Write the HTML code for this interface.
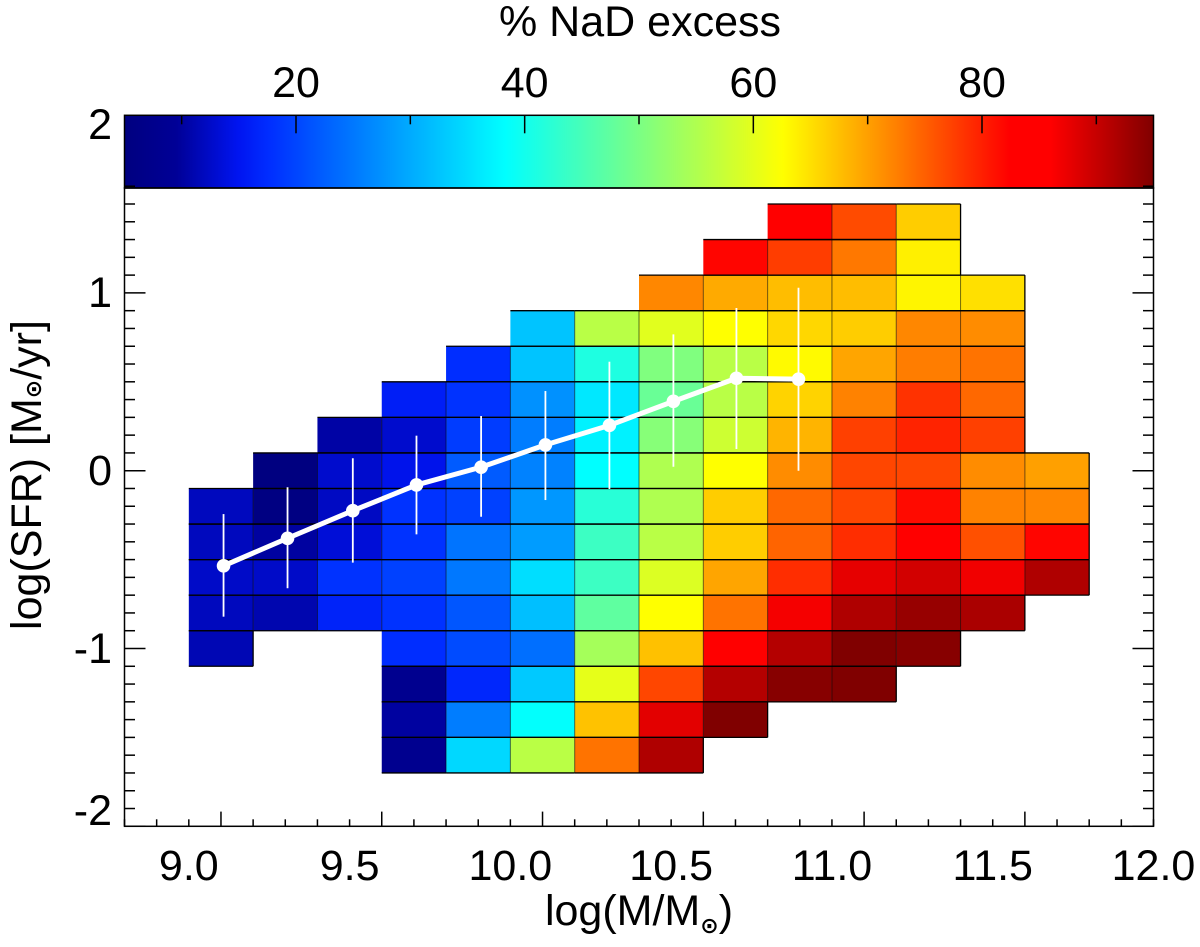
<!DOCTYPE html>
<html lang="en">
<head>
<meta charset="utf-8">
<title>NaD excess heatmap</title>
<style>
  html, body { margin: 0; padding: 0; background: #fff; }
  svg { display: block; }
  text { font-family: "Liberation Sans", sans-serif; font-size: 43px; fill: #000; }
  .sun { font-family: "DejaVu Sans", sans-serif; font-size: 22px; font-weight: bold; }
</style>
</head>
<body>
<svg id="chart" xmlns="http://www.w3.org/2000/svg" width="1200" height="947" viewBox="0 0 1200 947">
  <rect x="0" y="0" width="1200" height="947" fill="#fff"/>
  <defs>
    <linearGradient id="jet" x1="0" x2="1" y1="0" y2="0"></linearGradient>
  </defs>
  <g id="cells"></g>
  <g id="gridlines"></g>
  <g id="series"></g>
  <g id="axes"></g>
  <text x="640" y="36" text-anchor="middle">% NaD excess</text>
  <text x="639" y="925" text-anchor="middle">log(M/M<tspan class="sun" dy="8">⊙</tspan><tspan dy="-8">)</tspan></text>
  <text transform="translate(41,475) rotate(-90)" text-anchor="middle">log(SFR) [M<tspan class="sun" dy="0">⊙</tspan>/yr]</text>
</svg>
<script>
// ---- chart data ----
const massBins = [9.0, 9.2, 9.4, 9.6, 9.8, 10.0, 10.2, 10.4, 10.6, 10.8, 11.0, 11.2, 11.4, 11.6];
const sfrBins = [1.5, 1.3, 1.1, 0.9, 0.7, 0.5, 0.3, 0.1, -0.1, -0.3, -0.5, -0.7, -0.9, -1.1, -1.3, -1.5];
const n = null;
const row1 = [n, n, n, n, n, n, n, n, n, 84, 76.6, 66.5, n, n];
const row2 = [n, n, n, n, n, n, n, n, 82, 77.7, 73.1, 63.8, n, n];
const row3 = [n, n, n, n, n, n, n, 71.9, 69.2, 67.7, 67.7, 63.4, 65, n];
const row4 = [n, n, n, n, n, 32.5, 55.9, 59.7, 62.6, 65.7, 66.5, 71.9, 71.5, n];
const row5 = [n, n, n, n, 17.6, 32.5, 41.2, 50.5, 55.9, 63, 69.6, 72.7, 73.5, n];
const row6 = [n, n, n, 16, 18.1, 27.5, 36, 48.3, 55.9, 66, 72.3, 78.5, 74.3, n];
const row7 = [n, n, 10.4, 12.8, 19.1, 25.5, 37, 51.2, 57.8, 68.4, 77.4, 79.7, 77.4, n];
const row8 = [n, 5, 12.8, 14.6, 22.1, 26, 38.3, 55, 62.6, 71.5, 77, 77, 71.5, 70];
const row9 = [11.9, 5.5, 12.2, 18.1, 19.6, 28, 42.1, 55, 66.5, 74.3, 77, 81.6, 72.3, 72];
const row10 = [11.9, 10.1, 13.4, 18.1, 24.6, 28.5, 44, 55.9, 66.5, 74.6, 78.9, 84, 76.2, 82];
const row11 = [12.5, 12.5, 18.1, 19.6, 25, 35, 44, 59.3, 69.6, 78.9, 87.8, 89.2, 87, 91.7];
const row12 = [11.9, 11, 16.5, 18.1, 21.6, 32, 47.4, 62.6, 73.5, 86.7, 91.7, 93.4, 92, n];
const row13 = [11.3, n, n, 17.6, 20.6, 24.1, 54, 67.4, 84, 91.3, 95, 94.5, n, n];
const row14 = [n, n, n, 8, 17, 33, 60.2, 77, 91.3, 94.5, 95, n, n, n];
const row15 = [n, n, n, 10.1, 25.5, 38.5, 67.3, 88, 95, n, n, n, n, n];
const row16 = [n, n, n, 8, 34.5, 56, 73.5, 91.7, n, n, n, n, n, n];
const excessGrid = [row1, row2, row3, row4, row5, row6, row7, row8, row9, row10, row11, row12, row13, row14, row15, row16];

const medianMass = [9.108, 9.307, 9.51, 9.708, 9.909, 10.109, 10.308, 10.507, 10.703, 10.896];
const medianSfr = [-0.535, -0.38, -0.225, -0.08, 0.02, 0.145, 0.255, 0.39, 0.52, 0.515];
const sfrUpper = [-0.244, -0.093, 0.07, 0.197, 0.308, 0.448, 0.613, 0.767, 0.915, 1.029];
const sfrLower = [-0.821, -0.661, -0.517, -0.358, -0.259, -0.165, -0.103, 0.022, 0.122, 0];

const xMajorTicks = ["9.0", "9.5", "10.0", "10.5", "11.0", "11.5", "12.0"];
const yMajorTicks = ["2", "1", "0", "-1", "-2"];
const barMajorTicks = ["20", "40", "60", "80"];
const barMinorTicks = [10, 30, 50, 70, 90];

// ---- scales ----
const plotL = 124.5, plotR = 1153.5, plotB = 826.3, plotT = 188, barT = 115.3;
const xScale = v => plotL + (v - 8.8) / 3.2 * (plotR - plotL);
const yScale = v => 470.7 - v * 177.8;
const barScale = v => plotL + (v - 5) / 90 * (plotR - plotL);
const binWidth = 0.2;

function jetAt(f) {
  const s = [[0, 0, 0, 128], [0.05, 0, 0, 150], [0.11, 0, 20, 240], [0.14, 0, 45, 255], [0.37, 0, 255, 255], [0.64, 255, 255, 0], [0.86, 255, 0, 0], [0.9, 255, 0, 0], [1, 128, 0, 0]];
  for (let i = 1; i < s.length; i++) {
    if (f <= s[i][0]) {
      const t = (f - s[i - 1][0]) / (s[i][0] - s[i - 1][0]);
      const c = [1, 2, 3].map(k => Math.round(s[i - 1][k] + t * (s[i][k] - s[i - 1][k])));
      return `rgb(${c[0]},${c[1]},${c[2]})`;
    }
  }
  return 'rgb(128,0,0)';
}
const colorOf = v => jetAt(Math.max(0, Math.min(1, (v - 5) / 90)));

const NS = 'http://www.w3.org/2000/svg';
function make(tag, parent, attrs) {
  const el = document.createElementNS(NS, tag);
  for (const k in attrs) el.setAttribute(k, attrs[k]);
  parent.appendChild(el);
  return el;
}

// ---- heatmap ----
const cellsG = document.getElementById('cells');
const linesG = document.getElementById('gridlines');
excessGrid.forEach((row, r) => {
  row.forEach((val, c) => {
    if (val === null) return;
    const x0 = xScale(massBins[c]), x1 = xScale(massBins[c] + binWidth);
    const y0 = yScale(sfrBins[r]), y1 = yScale(sfrBins[r] - binWidth);
    const cell = make('rect', cellsG, { x: x0, y: y0, width: x1 - x0, height: y1 - y0, fill: colorOf(val) });
    
    
  });
});
excessGrid.forEach((row, r) => {
  row.forEach((val, c) => {
    if (val === null) return;
    const x0 = xScale(massBins[c]), x1 = xScale(massBins[c] + binWidth);
    const y0 = yScale(sfrBins[r]), y1 = yScale(sfrBins[r] - binWidth);
    const hasRight = c + 1 < row.length && row[c + 1] !== null;
    const top = make('line', linesG, { x1: x0, x2: x1, y1: y0, y2: y0, stroke: '#000', 'stroke-width': 1.3 });
    
    
    const bottom = make('line', linesG, { x1: x0, x2: x1, y1: y1, y2: y1, stroke: '#000', 'stroke-width': 1.3 });
    
    
    const right = make('line', linesG, { x1: x1, x2: x1, y1: y0, y2: y1, stroke: '#000', 'stroke-width': hasRight ? 1 : 1.3, 'stroke-opacity': hasRight ? 0.55 : 1 });
    
    
  });
});

// ---- median series ----
const seriesG = document.getElementById('series');
medianMass.forEach((m, i) => {
  const bar = make('line', seriesG, { x1: xScale(m), x2: xScale(m), y1: yScale(sfrUpper[i]), y2: yScale(sfrLower[i]), stroke: '#fff', 'stroke-width': 1.8 });
  
  
});
const medianLine = make('polyline', seriesG, {
  points: medianMass.map((m, i) => `${xScale(m)},${yScale(medianSfr[i])}`).join(' '),
  fill: 'none', stroke: '#fff', 'stroke-width': 5, 'stroke-linejoin': 'round'
});


medianMass.forEach((m, i) => {
  const pt = make('circle', seriesG, { cx: xScale(m), cy: yScale(medianSfr[i]), r: 6.8, fill: '#fff' });
  
  
});

// ---- axes ----
const axesG = document.getElementById('axes');
const gradient = document.getElementById('jet');
for (let i = 0; i <= 100; i += 1) {
  make('stop', gradient, { offset: i / 100, 'stop-color': jetAt(i / 100) });
}
const colorbar = make('rect', axesG, { x: plotL, y: barT, width: plotR - plotL, height: plotT - barT, fill: 'url(#jet)', stroke: '#000', 'stroke-width': 1.5 });


const frame = make('rect', axesG, { x: plotL, y: plotT, width: plotR - plotL, height: plotB - plotT, fill: 'none', stroke: '#000', 'stroke-width': 1.5 });



function tick(x1, y1, x2, y2, name) {
  const t = make('line', axesG, { x1, y1, x2, y2, stroke: '#000', 'stroke-width': 1.5 });
  
  
}
function label(str, x, y, anchor, name) {
  const t = make('text', axesG, { x, y, 'text-anchor': anchor });
  t.textContent = str;
  
  
}

// x ticks every 0.1, major every 0.5
for (let i = 0; i <= 32; i++) {
  const v = 8.8 + i * 0.1;
  const major = (i + 2) % 5 === 0;
  tick(xScale(v), plotB, xScale(v), plotB - (major ? 14.7 : 7), 'x-axis-tick');
}
xMajorTicks.forEach(s => {
  label(s, xScale(parseFloat(s)), 880, 'middle', 'x-tick-label');
});

// y ticks every 0.1, major every 1
for (let i = -20; i <= 16; i++) {
  const v = i / 10;
  const major = i % 10 === 0;
  const len = major ? 21 : 10.5;
  tick(plotL, yScale(v), plotL + len, yScale(v), 'y-axis-tick-left');
  tick(plotR, yScale(v), plotR - len, yScale(v), 'y-axis-tick-right');
}
const yLabelNudge = { "2": 23.7, "1": 14.3, "0": 14.3, "-1": 14.7, "-2": -1.3 };
yMajorTicks.forEach(s => {
  label(s, 112, yScale(parseFloat(s)) + yLabelNudge[s], 'end', 'y-tick-label');
});

// colourbar ticks
barMajorTicks.forEach(s => {
  const x = barScale(parseFloat(s));
  tick(x, barT, x, barT + 18, 'colorbar-major-tick');
  label(s, x, 97, 'middle', 'colorbar-tick-label');
});
barMinorTicks.forEach(v => {
  tick(barScale(v), barT, barScale(v), barT + 9, 'colorbar-minor-tick');
});
</script>
</body>
</html>
